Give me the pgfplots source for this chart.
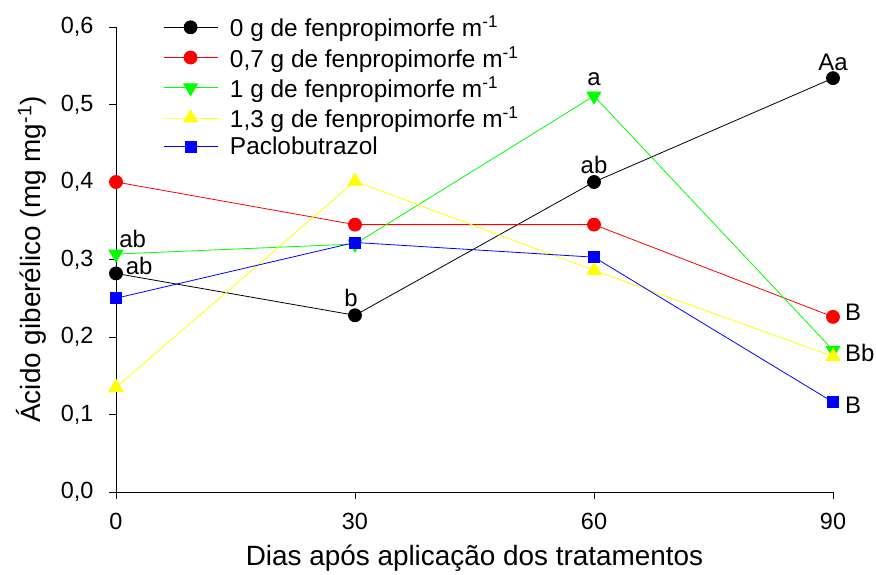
\documentclass[border=0pt]{standalone}
\usepackage{pgfplots}
\pgfplotsset{compat=1.18}
\usepackage{fontspec}
\setmainfont{Liberation Sans}
\definecolor{cgreen}{RGB}{0,255,0}
\definecolor{cyellow}{RGB}{255,255,0}
\definecolor{cred}{RGB}{255,0,0}
\definecolor{cblue}{RGB}{0,0,255}
\begin{document}
\begin{tikzpicture}
\useasboundingbox (-116bp,-83bp) rectangle (760bp,492bp);
\begin{axis}[
  at={(0,0)}, anchor=origin,
  scale only axis, width=717bp, height=465bp,
  xmin=0, xmax=90, ymin=0, ymax=0.6,
  xtick={0,30,60,90}, ytick={0,0.1,...,0.6},
  axis lines*=left, tick align=outside, major tick length=7bp,
  tick style={black, line width=0.8pt},
  axis line style={line width=0.8pt},
  /pgf/number format/assume math mode=true,
  yticklabel style={/tikz/xshift=-12bp, /pgf/number format/.cd, use comma, fixed, fixed zerofill, precision=1},
  xticklabel style={yshift=-11bp},
  ticklabel style={font=\fontsize{23.5}{28}\selectfont},
  label style={font=\fontsize{28}{32}\selectfont},
  xlabel={Dias após aplicação dos tratamentos},
  ylabel={Ácido giberélico (mg mg\textsuperscript{-1})},
  xlabel style={yshift=-8bp},
  ylabel style={yshift=8bp},
  clip=false,
  legend style={draw=none, fill=none, at={(44bp,480bp)}, anchor=north west,
    font=\fontsize{24.5}{29}\selectfont, row sep=4bp, legend cell align=left,
    /tikz/every odd column/.append style={column sep=10bp}},
  legend image code/.code={\draw[mark repeat=2, mark phase=2] plot coordinates {(0bp,0bp) (27bp,0bp) (54bp,0bp)};},
  every axis plot/.append style={line width=0.8pt},
]
\addplot[black, mark=*, mark size=6.5bp, mark options={fill=black}] coordinates {(0,0.282) (30,0.228) (60,0.400) (90,0.534)};
\addlegendentry{0 g de fenpropimorfe m\textsuperscript{-1}}
\addplot[cred, mark=*, mark size=6.5bp, mark options={fill=cred}] coordinates {(0,0.400) (30,0.345) (60,0.345) (90,0.226)};
\addlegendentry{0,7 g de fenpropimorfe m\textsuperscript{-1}}
\addplot[cgreen, mark=triangle*, mark size=8bp, mark options={rotate=180, fill=cgreen}] coordinates {(0,0.307) (30,0.320) (60,0.511) (90,0.183)};
\addlegendentry{1 g de fenpropimorfe m\textsuperscript{-1}}
\addplot[cyellow, mark=triangle*, mark size=8bp, mark options={fill=cyellow}] coordinates {(0,0.135) (30,0.401) (60,0.286) (90,0.175)};
\addlegendentry{1,3 g de fenpropimorfe m\textsuperscript{-1}\rule[-13bp]{0pt}{0pt}}
\addplot[cblue, mark=square*, mark size=5.5bp, mark options={fill=cblue}] coordinates {(0,0.250) (30,0.322) (60,0.303) (90,0.116)};
\addlegendentry{Paclobutrazol}
\begin{scope}[every node/.style={font=\fontsize{24}{28}\selectfont, inner sep=0pt}]
\node[anchor=west] at (axis cs:0.4,0.327) {ab};
\node[anchor=west] at (axis cs:1.2,0.292) {ab};
\node at (axis cs:29.5,0.250) {b};
\node at (axis cs:60,0.422) {ab};
\node at (axis cs:60,0.533) {a};
\node at (axis cs:90,0.554) {Aa};
\node[anchor=west] at (axis cs:91.5,0.232) {B};
\node[anchor=west] at (axis cs:91.5,0.179) {Bb};
\node[anchor=west] at (axis cs:91.5,0.112) {B};
\end{scope}
\end{axis}
\end{tikzpicture}
\end{document}
